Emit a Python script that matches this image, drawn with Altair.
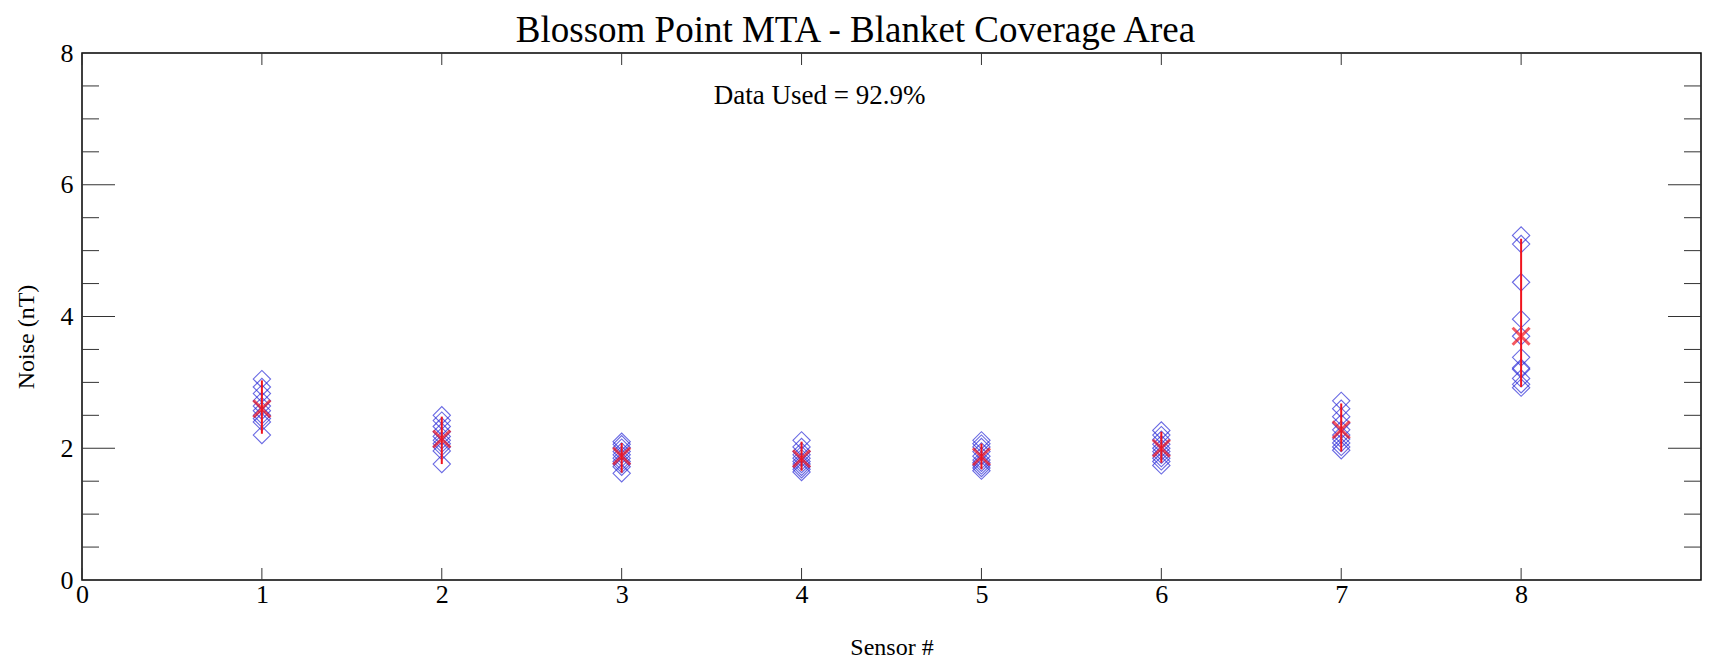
import altair as alt
import pandas as pd

# ---------------- data ----------------
sensors = [1, 2, 3, 4, 5, 6, 7, 8]
noise_s1 = [3.05, 2.93, 2.83, 2.72, 2.64, 2.57, 2.50, 2.45, 2.40, 2.20]
noise_s2 = [2.50, 2.42, 2.33, 2.25, 2.18, 2.12, 2.07, 2.02, 1.96, 1.76]
noise_s3 = [2.10, 2.06, 2.01, 1.95, 1.90, 1.85, 1.80, 1.76, 1.72, 1.62]
noise_s4 = [2.12, 2.02, 1.95, 1.90, 1.85, 1.80, 1.76, 1.72, 1.68, 1.64]
noise_s5 = [2.12, 2.07, 2.02, 1.95, 1.88, 1.82, 1.78, 1.74, 1.70, 1.66]
noise_s6 = [2.27, 2.20, 2.13, 2.06, 2.00, 1.95, 1.90, 1.85, 1.80, 1.74]
noise_s7 = [2.72, 2.60, 2.48, 2.38, 2.28, 2.20, 2.14, 2.08, 2.02, 1.97]
noise_s8 = [5.23, 5.10, 4.52, 3.96, 3.70, 3.38, 3.22, 3.20, 3.06, 2.97, 2.92]
mean_noise = [2.60, 2.14, 1.88, 1.84, 1.87, 2.00, 2.28, 3.70]
bar_low = [2.22, 1.76, 1.63, 1.66, 1.68, 1.78, 1.95, 2.93]
bar_high = [3.03, 2.48, 2.08, 2.10, 2.07, 2.25, 2.68, 5.18]

x_tick_values = [0, 1, 2, 3, 4, 5, 6, 7, 8]
y_label_values = [0, 2, 4, 6, 8]
y_major_ticks = [2, 4, 6]
y_minor_ticks = [0.5, 1, 1.5, 2.5, 3, 3.5, 4.5, 5, 5.5, 6.5, 7, 7.5]

chart_title = "Blossom Point MTA - Blanket Coverage Area"
annotation_text = "Data Used = 92.9%"
annotation_x = 4.1
annotation_y = 7.35
x_title = "Sensor #"
y_title = "Noise (nT)"

# ---------------- tables ----------------
all_noise = [noise_s1, noise_s2, noise_s3, noise_s4, noise_s5, noise_s6, noise_s7, noise_s8]
rows = []
for s, vals in zip(sensors, all_noise):
    for v in vals:
        rows.append({"sensor": s, "noise": v})
points_df = pd.DataFrame(rows)
summary_df = pd.DataFrame({"sensor": sensors, "mean": mean_noise, "low": bar_low, "high": bar_high})
xt_df = pd.DataFrame({"v": x_tick_values})
ymaj_df = pd.DataFrame({"v": y_major_ticks})
ymin_df = pd.DataFrame({"v": y_minor_ticks})
ann_df = pd.DataFrame({"label": [annotation_text], "x": [annotation_x], "y": [annotation_y]})

# ---------------- style ----------------
W, H = 1619, 527
FONT = "Liberation Serif"
BLUE = "#2a2ad8"
RED = "#f0141e"
TICK = "#333333"

xscale = alt.Scale(domain=[0, 9], nice=False, zero=False)
yscale = alt.Scale(domain=[0, 8], nice=False, zero=False)

x_axis = alt.Axis(values=x_tick_values, ticks=False, domain=False, grid=False,
                  labelFont=FONT, labelFontSize=26, labelColor="black",
                  labelPadding=1, labelFlush=False, labelOverlap=False,
                  title=x_title, titleFont=FONT, titleFontSize=24,
                  titleFontWeight="normal", titleColor="black", titlePadding=28)
y_axis = alt.Axis(values=y_label_values, ticks=False, domain=False, grid=False,
                  labelFont=FONT, labelFontSize=26, labelColor="black",
                  labelPadding=9, labelFlush=False, labelOverlap=False,
                  title=y_title, titleFont=FONT, titleFontSize=24,
                  titleFontWeight="normal", titleColor="black", titlePadding=22,
                  titleY=H / 2 + 20)

def X(field):
    return alt.X(field, scale=xscale, axis=x_axis)

def Y(field):
    return alt.Y(field, scale=yscale, axis=y_axis)

diamonds = alt.Chart(points_df).mark_point(
    shape="diamond", size=300, filled=False, color=BLUE, strokeWidth=1.1
).encode(x=X("sensor:Q"), y=Y("noise:Q"))

bars = alt.Chart(summary_df).mark_rule(color=RED, strokeWidth=2).encode(
    x=X("sensor:Q"), y=Y("low:Q"), y2="high:Q")

crosses = alt.Chart(summary_df).mark_point(
    shape="M-1,-1L1,1M-1,1L1,-1", size=289, filled=False, color=RED, strokeWidth=3
).encode(x=X("sensor:Q"), y=Y("mean:Q"))

def yticks(df, x0, x1):
    return alt.Chart(df).mark_rule(color=TICK, strokeWidth=1).encode(
        y=Y("v:Q"), x=alt.value(x0), x2=alt.value(x1))

def xticks(y0, y1):
    return alt.Chart(xt_df).mark_rule(color=TICK, strokeWidth=1).encode(
        x=X("v:Q"), y=alt.value(y0), y2=alt.value(y1))

tick_layers = [
    yticks(ymaj_df, 0, 33), yticks(ymaj_df, W, W - 33),
    yticks(ymin_df, 0, 17), yticks(ymin_df, W, W - 17),
    xticks(H, H - 12), xticks(0, 12),
]

annotation = alt.Chart(ann_df).mark_text(
    font=FONT, fontSize=27, color="black", align="center", baseline="middle"
).encode(x=X("x:Q"), y=Y("y:Q"), text="label:N")

chart = alt.layer(diamonds, *tick_layers, bars, crosses, annotation).properties(
    width=W, height=H,
    title=alt.TitleParams(chart_title, font=FONT, fontSize=37, fontWeight="normal",
                          color="black", anchor="middle", dx=-36, dy=15, offset=5),
    autosize=alt.AutoSizeParams(type="none"),
    padding={"left": 74, "top": 45, "right": 2, "bottom": 80},
).configure(
    background="white",
    view=alt.ViewConfig(stroke="black", strokeWidth=1.5),
)

chart.save("out.html", embed_options={"renderer": "svg", "actions": False})
